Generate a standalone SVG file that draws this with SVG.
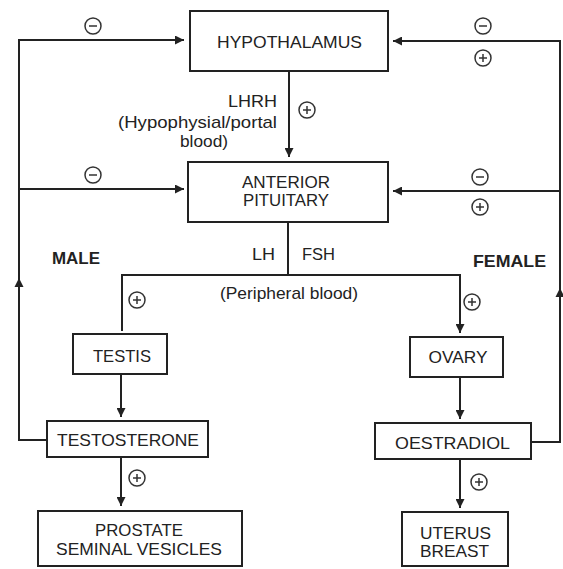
<svg xmlns="http://www.w3.org/2000/svg" width="563" height="569" viewBox="0 0 563 569">
<style>
.box{fill:#fff;stroke:#222;stroke-width:2}
.ln{fill:none;stroke:#222;stroke-width:2}
.t{font-family:"Liberation Sans",Arial,sans-serif;font-size:17px;fill:#222;text-anchor:middle;dominant-baseline:central}
.b{font-weight:bold}
.c{fill:#fff;stroke:#333;stroke-width:1.5}
.s{stroke:#333;stroke-width:1.5}
</style>
<defs>
<marker id="ah" viewBox="0 0 10 10" refX="10" refY="5" markerWidth="9" markerHeight="9" markerUnits="userSpaceOnUse" orient="auto">
<path d="M0,0 L10,5 L0,10 z" fill="#222"/>
</marker>
<g id="minus"><circle class="c" r="8"/><line class="s" x1="-4" y1="0" x2="4" y2="0"/></g>
<g id="plus"><circle class="c" r="8"/><line class="s" x1="-4" y1="0" x2="4" y2="0"/><line class="s" x1="0" y1="-4" x2="0" y2="4"/></g>
</defs>
<rect width="563" height="569" fill="#fff"/>
<g id="connectors">
<polyline class="ln" points="47,440 19,440 19,40 184,40" marker-end="url(#ah)"/>
<line class="ln" x1="19" y1="189" x2="184" y2="189" marker-end="url(#ah)"/>
<path d="M19,278 l-4.5,9 h9 z" fill="#222"/>
<polyline class="ln" points="531,442 560,442 560,41 393,41" marker-end="url(#ah)"/>
<line class="ln" x1="560" y1="191" x2="393" y2="191" marker-end="url(#ah)"/>
<path d="M560,288 l-4.5,9 h9 z" fill="#222"/>
<line class="ln" x1="289" y1="71" x2="289" y2="157" marker-end="url(#ah)"/>
<line class="ln" x1="288" y1="222" x2="288" y2="275"/>
<polyline class="ln" points="122,331 122,275 460,275 460,333" marker-end="url(#ah)"/>
<line class="ln" x1="121" y1="374" x2="121" y2="417" marker-end="url(#ah)"/>
<line class="ln" x1="121" y1="457" x2="121" y2="506" marker-end="url(#ah)"/>
<line class="ln" x1="460" y1="377" x2="460" y2="419" marker-end="url(#ah)"/>
<line class="ln" x1="460" y1="459" x2="460" y2="508" marker-end="url(#ah)"/>
<use href="#minus" x="93" y="26"/>
<use href="#minus" x="483" y="26"/>
<use href="#plus" x="483" y="58"/>
<use href="#plus" x="307" y="110"/>
<use href="#minus" x="93" y="175"/>
<use href="#minus" x="480" y="177"/>
<use href="#plus" x="480" y="207"/>
<use href="#plus" x="137" y="300"/>
<use href="#plus" x="472" y="302"/>
<use href="#plus" x="137" y="478"/>
<use href="#plus" x="479" y="482"/>
<text class="t" x="252.5" y="101" textLength="49" lengthAdjust="spacingAndGlyphs">LHRH</text>
<text class="t" x="197.5" y="122" textLength="159" lengthAdjust="spacingAndGlyphs">(Hypophysial/portal</text>
<text class="t" x="204" y="141" textLength="48" lengthAdjust="spacingAndGlyphs">blood)</text>
<text class="t" x="263.5" y="254" textLength="23" lengthAdjust="spacingAndGlyphs">LH</text>
<text class="t" x="318.5" y="254" textLength="33" lengthAdjust="spacingAndGlyphs">FSH</text>
<text class="t" x="289" y="293" textLength="138" lengthAdjust="spacingAndGlyphs">(Peripheral blood)</text>
<text class="t b" x="76" y="258" textLength="48" lengthAdjust="spacingAndGlyphs">MALE</text>
<text class="t b" x="509.5" y="261" textLength="73" lengthAdjust="spacingAndGlyphs">FEMALE</text>
</g>
<g id="hypothalamus">
<rect class="box" x="190" y="11" width="198" height="60"/>
<text class="t" x="289.5" y="42" textLength="145" lengthAdjust="spacingAndGlyphs">HYPOTHALAMUS</text>
</g>
<g id="pituitary">
<rect class="box" x="188" y="162" width="200" height="60"/>
<text class="t" x="286" y="182" textLength="88" lengthAdjust="spacingAndGlyphs">ANTERIOR</text>
<text class="t" x="286" y="200" textLength="86" lengthAdjust="spacingAndGlyphs">PITUITARY</text>
</g>
<g id="testis">
<rect class="box" x="73" y="334" width="94" height="40"/>
<text class="t" x="122" y="356" textLength="58" lengthAdjust="spacingAndGlyphs">TESTIS</text>
</g>
<g id="testosterone">
<rect class="box" x="47" y="421" width="161" height="36"/>
<text class="t" x="128" y="440" textLength="142" lengthAdjust="spacingAndGlyphs">TESTOSTERONE</text>
</g>
<g id="prostate">
<rect class="box" x="38" y="511" width="204" height="55"/>
<text class="t" x="139" y="530" textLength="88" lengthAdjust="spacingAndGlyphs">PROSTATE</text>
<text class="t" x="139" y="549" textLength="166" lengthAdjust="spacingAndGlyphs">SEMINAL VESICLES</text>
</g>
<g id="ovary">
<rect class="box" x="410" y="337" width="93" height="40"/>
<text class="t" x="458" y="357" textLength="59" lengthAdjust="spacingAndGlyphs">OVARY</text>
</g>
<g id="oestradiol">
<rect class="box" x="375" y="423" width="156" height="36"/>
<text class="t" x="452.5" y="443" textLength="115" lengthAdjust="spacingAndGlyphs">OESTRADIOL</text>
</g>
<g id="uterus">
<rect class="box" x="402" y="512" width="106" height="54"/>
<text class="t" x="455.5" y="533" textLength="71" lengthAdjust="spacingAndGlyphs">UTERUS</text>
<text class="t" x="454.5" y="551" textLength="69" lengthAdjust="spacingAndGlyphs">BREAST</text>
</g>
</svg>
